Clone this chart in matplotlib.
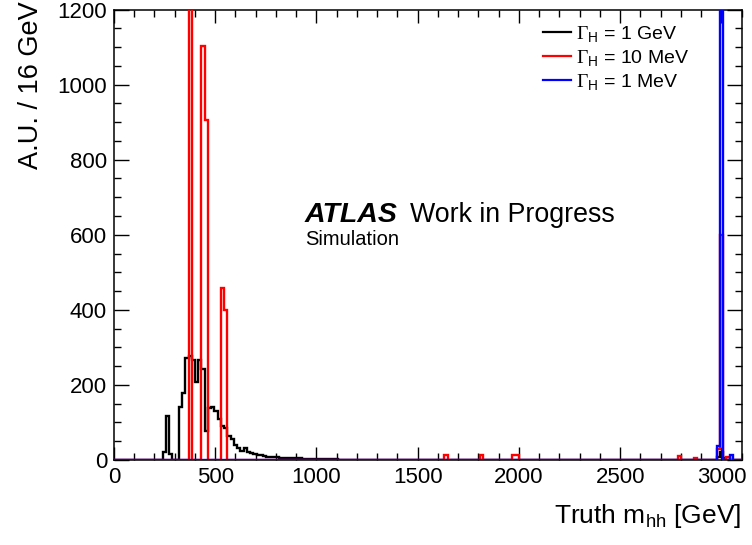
import numpy as np
import matplotlib
matplotlib.use("Agg")
import matplotlib.pyplot as plt

plt.rcParams["font.family"] = ["Liberation Sans", "DejaVu Sans"]
plt.rcParams["mathtext.fontset"] = "custom"
plt.rcParams["mathtext.rm"] = "Liberation Sans"
plt.rcParams["mathtext.it"] = "Liberation Sans:italic"
plt.rcParams["mathtext.tt"] = "Liberation Serif"

# 16 GeV bins
bin_width = 16
edges = np.arange(0, 3104 + bin_width, bin_width)

# Gamma_H = 1 GeV (black): consecutive bins starting at 240 GeV
black_start = 240
black_vals = [22, 116, 16, 0, 0, 140, 178, 273, 276, 267, 209, 267, 242, 78,
              138, 142, 131, 108, 90, 84, 65, 55, 40, 33, 25, 32, 22, 18, 15,
              13, 12, 10, 9, 8, 7, 7, 6, 6, 5, 5, 4, 4, 4, 3, 3, 3, 2, 2, 2,
              2, 2, 1.5, 1.5, 1.5, 1, 1, 1, 1, 1, 1, 1, 1, 1, 1, 1]
black_tail_lo = [2976, 2992, 3008]
black_tail_vals = [8, 20, 6]

# Gamma_H = 10 MeV (red)
red_lo = [368, 432, 448, 528, 544, 1632, 1808, 1968, 1984, 2784, 2864,
          2976, 2992, 3024]
red_vals = [1300, 1102, 905, 457, 399, 12, 12, 12, 12, 10, 6, 30, 600, 8]

# Gamma_H = 1 MeV (blue)
blue_lo = [2976, 2992, 3040]
blue_vals = [38, 1300, 13]


def fill(lows, vals):
    h = np.zeros(len(edges) - 1)
    for lo, v in zip(lows, vals):
        h[lo // bin_width] = v
    return h


h_black = fill(list(range(black_start, black_start + bin_width * len(black_vals), bin_width)) + black_tail_lo,
               black_vals + black_tail_vals)
h_red = fill(red_lo, red_vals)
h_blue = fill(blue_lo, blue_vals)

W, H = 752, 545
fig = plt.figure(figsize=(W / 100, H / 100), dpi=100)
ax = fig.add_axes([114 / W, 1 - 460 / H, (741.7 - 114) / W, (460 - 9.5) / H])

lw = 1.7
ax.stairs(h_black, edges, color="black", lw=lw, zorder=3, label=r"$\mathtt{\Gamma}_{\mathrm{H}}$ = 1 GeV")
ax.stairs(h_red, edges, color="#ff0000", lw=lw, zorder=3, label=r"$\mathtt{\Gamma}_{\mathrm{H}}$ = 10 MeV")
ax.stairs(h_blue, edges, color="#0000ff", lw=lw, zorder=3, label=r"$\mathtt{\Gamma}_{\mathrm{H}}$ = 1 MeV")

ax.set_xlim(0, 3100)
ax.set_ylim(0, 1200)
ax.set_xticks(np.arange(0, 3001, 500))
ax.set_xticks(np.arange(0, 3101, 100), minor=True)
ax.set_yticks(np.arange(0, 1201, 200))
ax.set_yticks(np.arange(0, 1201, 50), minor=True)
ax.tick_params(which="both", direction="in", top=True, right=True, labelsize=16, width=1.0)
ax.tick_params(axis="x", which="major", length=9.5, pad=5)
ax.tick_params(axis="x", which="minor", length=4.8)
ax.tick_params(axis="y", which="major", length=10.5, pad=5)
ax.tick_params(axis="y", which="minor", length=5)
for s in ax.spines.values():
    s.set_linewidth(1.1)

leg = ax.legend(loc="upper left", bbox_to_anchor=(543 / W, 1 - 24 / H), bbox_transform=fig.transFigure,
                frameon=False, fontsize=14, handlelength=1.45, handletextpad=0.25,
                labelspacing=0.2, borderpad=0, borderaxespad=0)
for line in leg.get_lines():
    line.set_linewidth(1.6)

fig.text(305 / W, 1 - 222 / H, "ATLAS", fontsize=20.5, fontweight="bold", fontstyle="italic", va="baseline")
fig.text(410 / W, 1 - 222 / H, "Work in Progress", fontsize=19.3, va="baseline")
fig.text(305 / W, 1 - 245 / H, "Simulation", fontsize=14.5, va="baseline")

fig.text(741 / W, 1 - 523 / H, r"Truth m$_{\mathrm{hh}}$ [GeV]", fontsize=19, ha="right", va="baseline")
fig.text(31 / W, 1 - 1 / H, "A.U. / 16 GeV", fontsize=19.5, rotation=90, ha="center", va="top")

fig.savefig("out.png", dpi=100)
